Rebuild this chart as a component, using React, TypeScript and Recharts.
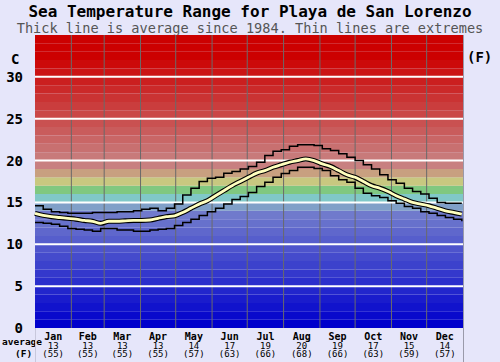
import {
  ComposedChart,
  Line,
  XAxis,
  YAxis,
  ReferenceArea,
  ReferenceLine,
} from "recharts";

// day-of-year sample points, one per week
const days = [
  0, 7, 14, 21, 28, 35, 42, 49, 56, 63, 70, 77, 84, 91, 98, 105, 112, 119, 126, 133,
  140, 147, 154, 161, 168, 175, 182, 189, 196, 203, 210, 217, 224, 231, 238, 245, 252,
  259, 266, 273, 280, 287, 294, 301, 308, 315, 322, 329, 336, 343, 350, 357, 364,
];

const avgTemp = [
  13.7, 13.45, 13.3, 13.2, 13.1, 13.0, 12.85, 12.75, 12.5, 12.75,
  12.75, 12.8, 12.85, 12.85, 12.9, 13.1, 13.3, 13.4, 13.8, 14.3,
  14.8, 15.2, 15.8, 16.4, 17.0, 17.5, 18.0, 18.5, 18.8, 19.2,
  19.5, 19.8, 20.0, 20.2, 20.0, 19.6, 19.3, 18.8, 18.3, 18.0,
  17.5, 17.0, 16.7, 16.3, 15.8, 15.4, 15.0, 14.8, 14.6, 14.3,
  14.0, 13.8, 13.6,
];

const maxTemp = [
  14.6, 14.2, 13.9, 13.8, 13.7, 13.7, 13.7, 13.8, 13.8, 13.8,
  13.9, 13.9, 14.0, 14.2, 14.3, 14.0, 14.3, 14.8, 15.9, 16.7,
  17.5, 17.9, 18.0, 18.5, 18.7, 19.0, 19.3, 19.8, 20.6, 21.1,
  21.3, 21.7, 21.9, 21.9, 21.8, 21.4, 21.2, 20.8, 20.4, 20.0,
  19.5, 19.0, 18.3, 17.7, 17.3, 16.7, 16.3, 16.0, 15.5, 15.0,
  14.9, 14.9, 14.9,
];

const minTemp = [
  12.6, 12.5, 12.4, 12.15, 11.9, 11.8, 11.7, 11.55, 11.9, 11.9,
  11.7, 11.7, 11.55, 11.55, 11.7, 11.8, 11.9, 12.25, 12.6, 13.0,
  13.45, 13.9, 14.3, 14.8, 15.35, 15.7, 16.2, 16.9, 17.4, 18.0,
  18.45, 18.8, 19.2, 19.2, 19.05, 18.8, 18.2, 17.7, 17.4, 16.7,
  16.1, 15.8, 15.6, 15.2, 14.9, 14.5, 14.3, 13.9, 13.7, 13.45,
  13.2, 13.0, 12.75,
];

const months = ["Jan", "Feb", "Mar", "Apr", "May", "Jun", "Jul", "Aug", "Sep", "Oct", "Nov", "Dec"];
const monthAvgC = [13, 13, 13, 13, 14, 17, 19, 20, 19, 17, 15, 14];
const monthAvgF = [55, 55, 55, 55, 57, 63, 66, 68, 66, 63, 59, 57];
const monthLengths = [31, 28, 31, 30, 31, 30, 31, 31, 30, 31, 30, 31];

const cTicks = [0, 5, 10, 15, 20, 25, 30];
const fLabels = ["(32)", "(41)", "(50)", "(59)", "(68)", "(77)", "(86)"];

const data = days.map((d, i) => ({
  day: d,
  avg: avgTemp[i],
  max: maxTemp[i],
  min: minTemp[i],
}));

const monthStarts: number[] = [];
const monthMids: number[] = [];
{
  let acc = 0;
  monthLengths.forEach((len) => {
    monthStarts.push(acc);
    monthMids.push(acc + len / 2);
    acc += len;
  });
}

const MONO = "'DejaVu Sans Mono', monospace";

function mix(a: number[], b: number[], t: number) {
  const c = a.map((v, k) => Math.round(v + (b[k] - v) * t));
  return `rgb(${c[0]},${c[1]},${c[2]})`;
}

// colour of the 1-degree band starting at temperature i
function bandColor(i: number) {
  if (i <= 13) return mix([0, 0, 204], [112, 122, 204], i / 13);
  const fixed: Record<number, string> = {
    14: "rgb(128,160,200)",
    15: "rgb(128,200,200)",
    16: "rgb(128,200,128)",
    17: "rgb(200,200,128)",
    18: "rgb(200,160,128)",
    19: "rgb(200,128,128)",
  };
  if (fixed[i]) return fixed[i];
  return mix([200, 122, 122], [204, 0, 0], Math.min(1, (i - 20) / 12));
}

const bands = Array.from({ length: 35 }, (_, i) => i);

function MonthTick(props: any) {
  const { x, y, index } = props;
  return (
    <g fontFamily={MONO} fontSize={9} textAnchor="middle" fill="#000">
      <text x={x} y={y + 10} fontWeight="bold" fontSize={10}>
        {months[index]}
      </text>
      <text x={x} y={y + 18.5}>{monthAvgC[index]}</text>
      <text x={x} y={y + 27}>({monthAvgF[index]})</text>
    </g>
  );
}

export default function App() {
  return (
    <div
      style={{
        position: "absolute",
        left: 0,
        top: 0,
        width: 500,
        height: 362,
        background: "#e6e6fa",
        fontFamily: MONO,
      }}
    >
      <div
        style={{
          position: "absolute",
          top: 3,
          width: 500,
          textAlign: "center",
          fontSize: 16,
          fontWeight: "bold",
          lineHeight: "18px",
        }}
      >
        Sea Temperature Range for Playa de San Lorenzo
      </div>
      <div
        style={{
          position: "absolute",
          top: 20,
          width: 500,
          textAlign: "center",
          fontSize: 13.6,
          color: "#555",
          lineHeight: "16px",
        }}
      >
        Thick line is average since 1984. Thin lines are extremes
      </div>
      <div style={{ position: "absolute", left: 11, top: 51, fontSize: 14, fontWeight: "bold" }}>C</div>
      <div style={{ position: "absolute", left: 467, top: 49, fontSize: 14, fontWeight: "bold" }}>(F)</div>
      <div style={{ position: "absolute", left: 2, top: 337, fontSize: 9.5, fontWeight: "bold", lineHeight: "9px" }}>
        average
      </div>
      <div style={{ position: "absolute", left: 15, top: 349, fontSize: 9.5, fontWeight: "bold", lineHeight: "9px" }}>
        (F)
      </div>
      <div style={{ position: "absolute", left: 35, top: 328, width: 0, height: 34, borderLeft: "1px solid #c8c8dc" }} />
      <div style={{ position: "absolute", left: 463, top: 35, width: 0, height: 327, borderLeft: "1px solid #9a9aaa" }} />
      <ComposedChart
        width={500}
        height={362}
        data={data}
        margin={{ top: 35, right: 0, bottom: 0, left: 0 }}
        style={{ position: "absolute", left: 0, top: 0 }}
      >
        <XAxis
          type="number"
          dataKey="day"
          domain={[0, 365]}
          ticks={monthMids}
          interval={0}
          height={34}
          tickLine={false}
          axisLine={false}
          tickSize={0}
          tick={<MonthTick />}
        />
        <YAxis
          yAxisId="c"
          type="number"
          domain={[0, 35]}
          ticks={cTicks}
          width={35}
          tickLine={false}
          axisLine={false}
          tickSize={0}
          tickMargin={12}
          tick={{ fill: "#000", fontSize: 14, fontFamily: MONO, fontWeight: "bold" }}
        />
        <YAxis
          yAxisId="f"
          orientation="right"
          type="number"
          domain={[0, 35]}
          ticks={cTicks}
          width={37}
          tickLine={false}
          axisLine={false}
          tickSize={0}
          tickMargin={2}
          tickFormatter={(v: number) => fLabels[cTicks.indexOf(v)]}
          tick={{ fill: "#000", fontSize: 14, fontFamily: MONO, fontWeight: "bold", textAnchor: "start" }}
        />
        {bands.map((i) => (
          <ReferenceArea
            key={`b${i}`}
            yAxisId="c"
            x1={0}
            x2={365}
            y1={i}
            y2={i + 1}
            fill={bandColor(i)}
            fillOpacity={1}
            stroke="none"
          />
        ))}
        {monthStarts.slice(1).map((d) => (
          <ReferenceLine key={`m${d}`} yAxisId="c" x={d} stroke="#6a6a6a" strokeWidth={1} />
        ))}
        {cTicks.slice(1).map((t) => (
          <ReferenceLine key={`h${t}`} yAxisId="c" y={t} stroke="#ffffff" strokeWidth={2} />
        ))}
        <Line
          yAxisId="c"
          dataKey="max"
          type="stepAfter"
          stroke="#000"
          strokeWidth={1.5}
          dot={false}
          isAnimationActive={false}
        />
        <Line
          yAxisId="c"
          dataKey="min"
          type="stepAfter"
          stroke="#000"
          strokeWidth={1.5}
          dot={false}
          isAnimationActive={false}
        />
        <Line
          yAxisId="c"
          dataKey="avg"
          type="monotone"
          stroke="#000"
          strokeWidth={5}
          dot={false}
          isAnimationActive={false}
        />
        <Line
          yAxisId="c"
          dataKey="avg"
          type="monotone"
          stroke="#ffffbe"
          strokeWidth={2.8}
          dot={false}
          isAnimationActive={false}
        />
      </ComposedChart>
    </div>
  );
}
